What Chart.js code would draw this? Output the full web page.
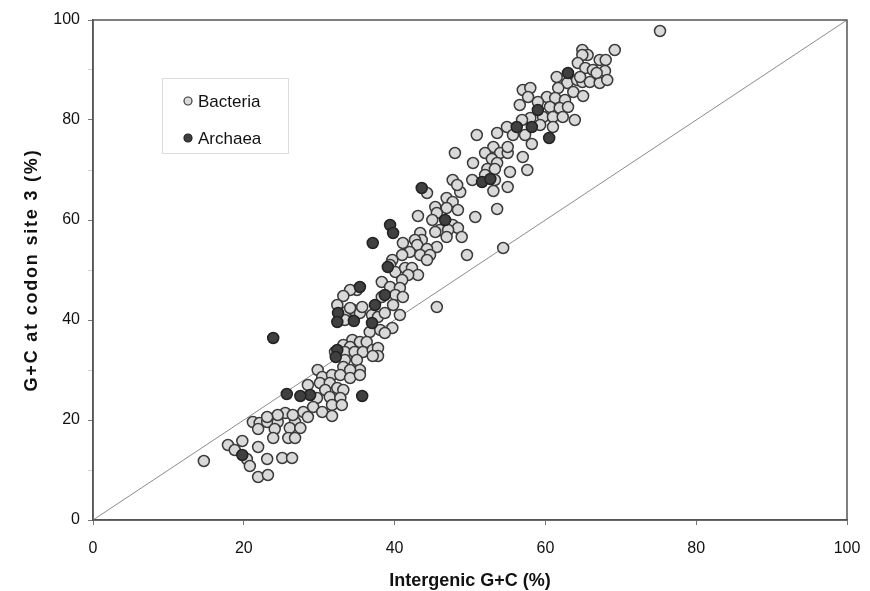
<!DOCTYPE html>
<html>
<head>
<meta charset="utf-8">
<script src="https://cdn.jsdelivr.net/npm/chart.js@4.4.0/dist/chart.umd.min.js"></script>
<style>
  html, body { margin: 0; padding: 0; background: #fff; }
  #wrap { width: 870px; height: 591px; }
</style>
</head>
<body>
<div id="wrap"><canvas id="gcChart" width="870" height="591"></canvas></div>
<script>
// Intergenic G+C (%) vs G+C at codon site 3 (%)
const bacteriaX = [
  21.2, 22.1, 23.1, 24.5, 26.8, 21.9, 24.1, 26.1, 27.5, 23.9, 25.9, 26.8, 17.9, 19.8, 18.8, 20.4,
  21.9, 23.1, 25.1, 26.4, 14.7, 20.8, 21.9, 23.2,
  33.6, 34.5, 35.4, 37.0, 37.8, 38.7, 33.4, 36.7, 38.1, 39.7, 38.7, 34.4, 35.4, 36.3, 33.2, 34.1,
  32.1, 33.4, 34.7, 35.8, 37.1, 37.8, 37.8, 37.1, 33.4, 35.0, 33.2, 35.4, 34.1, 29.8, 30.4, 31.7,
  32.8, 34.1, 35.4, 30.1, 31.4, 32.4, 33.2, 30.8, 28.5, 29.7, 31.4, 32.8, 31.7, 33.0, 29.2, 30.4,
  27.9, 25.5, 24.5, 23.1, 26.5, 28.5, 31.7,
  43.1, 43.4, 43.6, 42.7, 41.1, 43.0, 45.6, 44.3, 42.0, 41.0, 43.4, 44.7, 49.6, 44.3, 39.7, 39.4,
  40.1, 41.4, 42.3, 43.1, 41.8, 41.0, 38.3, 39.4, 40.7, 35.0, 34.1, 33.2, 40.1, 41.1, 38.3, 39.8,
  32.4, 34.1, 35.7, 45.6, 40.7,
  53.6, 50.9, 53.1, 52.0, 54.0, 55.0, 48.0, 57.0, 50.4, 52.9, 53.6, 52.3, 53.3, 55.3, 57.6, 52.0,
  50.3, 53.3, 55.0, 47.7, 44.3, 48.7, 48.3, 53.1, 46.9, 47.7, 46.9, 48.4, 45.4, 45.6, 53.6, 50.7,
  45.0, 47.7, 48.4, 46.0, 47.1, 45.4, 48.9, 46.9, 54.4,
  75.2, 69.2, 64.9, 65.6, 64.9, 67.2, 68.0, 64.3, 65.3, 66.3, 67.9, 61.5, 62.9, 64.2, 64.9, 65.9,
  67.2, 68.2, 64.6, 66.8, 57.0, 58.0, 57.7, 61.7, 63.7, 65.0, 60.2, 61.3, 62.6, 56.6, 59.0, 60.6,
  61.9, 63.0, 58.0, 56.9, 59.7, 61.0, 62.3, 63.9, 54.9, 59.3, 61.0, 55.7, 57.3, 58.2, 55.0
];
const bacteriaY = [
  19.6, 19.4, 19.6, 19.6, 19.6, 18.2, 18.2, 18.4, 18.4, 16.4, 16.4, 16.4, 15.0, 15.8, 14.0, 12.2,
  14.6, 12.2, 12.4, 12.4, 11.8, 10.8, 8.6, 9.0,
  41.6, 42.0, 41.4, 41.0, 40.6, 41.4, 40.0, 37.6, 38.0, 38.4, 37.4, 36.0, 35.6, 35.6, 35.0, 34.6,
  33.6, 33.6, 33.6, 33.6, 34.0, 34.4, 32.8, 32.8, 32.0, 32.0, 30.6, 30.0, 30.0, 30.0, 28.6, 29.0,
  29.0, 28.4, 29.0, 27.4, 27.4, 26.4, 26.0, 26.0, 27.0, 24.4, 24.6, 24.4, 23.0, 23.0, 22.6, 21.6,
  21.6, 21.4, 21.0, 20.6, 21.0, 20.6, 20.8,
  60.8, 57.4, 56.0, 56.0, 55.4, 55.0, 54.6, 54.2, 53.6, 53.0, 53.0, 53.0, 53.0, 52.0, 52.0, 51.0,
  49.6, 50.4, 50.4, 49.0, 49.0, 48.0, 47.6, 46.6, 46.4, 46.0, 46.0, 44.8, 45.0, 44.6, 44.6, 43.0,
  43.0, 42.4, 42.6, 42.6, 41.0,
  77.4, 77.0, 74.6, 73.4, 73.4, 73.4, 73.4, 72.6, 71.4, 72.2, 71.4, 70.2, 70.2, 69.6, 70.0, 69.0,
  68.0, 68.0, 66.6, 68.0, 65.4, 65.6, 67.0, 65.8, 64.4, 63.6, 62.4, 62.0, 62.6, 61.4, 62.2, 60.6,
  60.0, 59.0, 58.4, 58.0, 58.0, 57.6, 56.6, 56.6, 54.4,
  97.8, 94.0, 94.0, 93.0, 93.0, 92.0, 92.0, 91.4, 90.4, 90.0, 89.8, 88.6, 87.4, 88.0, 87.6, 87.6,
  87.4, 88.0, 88.6, 89.4, 86.0, 86.4, 84.6, 86.4, 85.6, 84.8, 84.6, 84.4, 84.0, 83.0, 83.6, 82.6,
  82.4, 82.6, 80.4, 80.0, 80.6, 80.6, 80.6, 80.0, 78.6, 79.0, 78.6, 77.0, 77.0, 75.2, 74.6
];
const archaeaX = [
  19.8, 32.5, 32.4, 34.6, 37.0, 23.9, 32.4, 32.2, 28.8, 27.5, 25.7, 35.7,
  39.4, 39.8, 37.1, 39.1, 35.4, 38.7, 37.4, 43.6, 51.6, 52.7, 46.7,
  63.0, 59.0, 56.2, 58.2, 60.5
];
const archaeaY = [
  13.0, 41.4, 39.6, 39.8, 39.4, 36.4, 34.0, 32.6, 25.0, 24.8, 25.2, 24.8,
  59.0, 57.4, 55.4, 50.6, 46.6, 45.0, 43.0, 66.4, 67.6, 68.2, 60.0,
  89.4, 82.0, 78.6, 78.6, 76.4
];
const diagonal = [0, 100];
const seriesNames = ["Bacteria", "Archaea"];
const xTitle = "Intergenic G+C (%)";
const yTitle = "G+C at codon site 3 (%)";

function toPoints(xs, ys) {
  return xs.map((x, i) => ({ x: x, y: ys[i] }));
}

// frame around plot area, boxed legend and the (letter-spaced) y title
const framePlugin = {
  id: "frame",
  afterDraw(chart) {
    const { ctx, chartArea: a } = chart;
    ctx.save();
    ctx.strokeStyle = "#555";
    ctx.lineWidth = 1.5;
    ctx.strokeRect(a.left, a.top, a.right - a.left, a.bottom - a.top);

    ctx.strokeStyle = "#dcdcdc";
    ctx.lineWidth = 1;
    ctx.strokeRect(162.5, 78.5, 126, 75);
    ctx.font = "17px Arial, 'Liberation Sans', sans-serif";
    ctx.textBaseline = "middle";
    const rows = [101, 138];
    [1, 2].forEach((di, i) => {
      const ds = chart.data.datasets[di];
      ctx.beginPath();
      ctx.arc(188, rows[i], 4, 0, Math.PI * 2);
      ctx.fillStyle = ds.backgroundColor;
      ctx.fill();
      ctx.strokeStyle = ds.borderColor;
      ctx.lineWidth = 1.2;
      ctx.stroke();
      ctx.fillStyle = "#111";
      ctx.fillText(ds.label, 198, rows[i] + 1);
    });

    // y axis title
    ctx.translate(32, (a.top + a.bottom) / 2);
    ctx.rotate(-Math.PI / 2);
    ctx.font = "bold 18px Arial, 'Liberation Sans', sans-serif";
    if ("letterSpacing" in ctx) ctx.letterSpacing = "1.8px";
    ctx.textAlign = "center";
    ctx.textBaseline = "middle";
    ctx.fillStyle = "#111";
    ctx.fillText(yTitle, 0, 0);
    ctx.restore();
  }
};

const ctx = document.getElementById("gcChart").getContext("2d");
new Chart(ctx, {
  type: "scatter",
  data: {
    datasets: [
      {
        type: "line",
        label: "y = x",
        data: toPoints(diagonal, diagonal),
        borderColor: "#8c8c8c",
        borderWidth: 1,
        pointRadius: 0,
        fill: false,
        order: 3,
      },
      {
        label: seriesNames[0],
        data: toPoints(bacteriaX, bacteriaY),
        backgroundColor: "#d9d9d9",
        borderColor: "#3a3a3a",
        borderWidth: 1.5,
        pointRadius: 5.5,
        order: 2,
      },
      {
        label: seriesNames[1],
        data: toPoints(archaeaX, archaeaY),
        backgroundColor: "#404040",
        borderColor: "#222",
        borderWidth: 1.5,
        pointRadius: 5.5,
        order: 1,
      },
    ],
  },
  options: {
    responsive: false,
    animation: false,
    devicePixelRatio: 1,
    layout: { padding: { top: 20, right: 23, left: 0, bottom: 0 } },
    plugins: {
      legend: { display: false },
      tooltip: { enabled: false },
    },
    scales: {
      x: {
        type: "linear",
        min: 0,
        max: 100,
        afterFit: (s) => {
          s.height = 71;
          s.paddingLeft = 0;
          s.paddingRight = 0;
        },
        ticks: {
          stepSize: 20,
          color: "#111",
          font: { family: "Arial, 'Liberation Sans', sans-serif", size: 16 },
          padding: 14,
        },
        grid: { drawOnChartArea: false, tickLength: 5, color: "#777" },
        border: { color: "#555", width: 1.5 },
        title: {
          display: true,
          text: xTitle,
          color: "#111",
          font: { family: "Arial, 'Liberation Sans', sans-serif", size: 18, weight: "bold" },
          padding: { top: 0, bottom: -1 },
        },
      },
      y: {
        min: 0,
        max: 100,
        afterFit: (s) => { s.width = 93; },
        ticks: {
          stepSize: 10,
          color: "#111",
          font: { family: "Arial, 'Liberation Sans', sans-serif", size: 16 },
          padding: 8,
          callback: (v) => (v % 20 === 0 ? v : ""),
        },
        grid: {
          drawOnChartArea: false,
          tickLength: 5,
          tickColor: (c) => (c.tick && c.tick.value % 20 === 0 ? "#777" : "#d0d0d0"),
        },
        border: { color: "#555", width: 1.5 },
        title: { display: false },
      },
    },
  },
  plugins: [framePlugin],
});
</script>
</body>
</html>
